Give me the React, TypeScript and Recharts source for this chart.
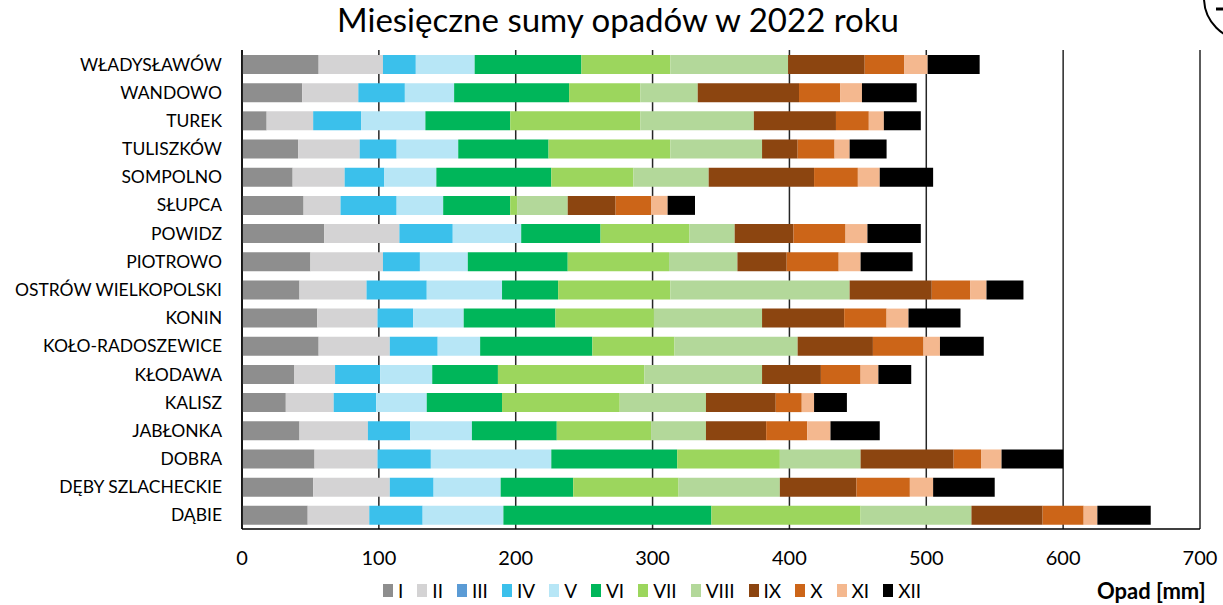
import React from 'react';
import { BarChart, Bar, XAxis, YAxis, CartesianGrid } from 'recharts';

// Stacje pomiarowe (od góry wykresu)
const stations = [
  'WŁADYSŁAWÓW', 'WANDOWO', 'TUREK', 'TULISZKÓW', 'SOMPOLNO', 'SŁUPCA', 'POWIDZ',
  'PIOTROWO', 'OSTRÓW WIELKOPOLSKI', 'KONIN', 'KOŁO-RADOSZEWICE', 'KŁODAWA',
  'KALISZ', 'JABŁONKA', 'DOBRA', 'DĘBY SZLACHECKIE', 'DĄBIE',
];

// Miesięczne sumy opadów [mm], kolejność jak w stations
const styczen = [56, 44, 18, 41, 37, 45, 60, 50, 42, 55, 56, 38, 32, 42, 53, 52, 48];
const luty = [47, 41, 34, 45, 38, 27, 55, 53, 49, 44, 52, 30, 35, 50, 46, 56, 45];
const marzec = [0, 0, 0, 0, 0, 0, 0, 0, 0, 0, 0, 0, 0, 0, 0, 0, 0];
const kwiecien = [24, 34, 35, 27, 29, 41, 39, 27, 44, 26, 35, 33, 31, 31, 39, 32, 39];
const maj = [43, 36, 47, 45, 38, 34, 50, 35, 55, 37, 31, 38, 37, 45, 88, 49, 59];
const czerwiec = [78, 84, 62, 66, 84, 49, 58, 73, 41, 67, 82, 48, 55, 62, 92, 53, 152];
const lipiec = [65, 52, 95, 89, 60, 5, 65, 74, 82, 72, 60, 107, 86, 69, 75, 77, 109];
const sierpien = [86, 42, 83, 67, 55, 37, 33, 50, 131, 79, 90, 86, 63, 40, 59, 74, 81];
const wrzesien = [56, 74, 60, 26, 77, 35, 43, 36, 60, 60, 55, 43, 51, 44, 68, 56, 52];
const pazdziernik = [29, 30, 24, 27, 32, 26, 38, 38, 28, 31, 37, 29, 19, 30, 20, 39, 30];
const listopad = [17, 16, 11, 11, 16, 12, 16, 16, 12, 16, 12, 13, 9, 17, 15, 17, 10];
const grudzien = [38, 40, 27, 27, 39, 20, 39, 38, 27, 38, 32, 24, 24, 36, 45, 45, 39];

const monthLabels = ['I', 'II', 'III', 'IV', 'V', 'VI', 'VII', 'VIII', 'IX', 'X', 'XI', 'XII'];
const monthValues = [styczen, luty, marzec, kwiecien, maj, czerwiec, lipiec, sierpien, wrzesien, pazdziernik, listopad, grudzien];
const monthColors = [
  '#8e8e8e', '#d4d3d4', '#5b9bd5', '#3bc0eb', '#b7e6f6', '#00b65a',
  '#9cd65d', '#b3d89a', '#8c4510', '#cc6518', '#f4b88f', '#000000',
];

const xTicks = [0, 100, 200, 300, 400, 500, 600, 700];

const data = stations.map((name, i) => {
  const row: any = { name };
  monthLabels.forEach((m, j) => { row[m] = monthValues[j][i]; });
  return row;
});

const FONT = 'Lato, "Open Sans", sans-serif';

const StationTick = ({ y, payload }: any) => (
  <text x={222} y={y} textAnchor="end" dominantBaseline="central" fontSize={17.5} fill="#000" fontFamily={FONT}>
    {payload.value}
  </text>
);

const ValueTick = ({ x, y, payload }: any) => (
  <text x={x} y={y + 20} textAnchor="middle" dominantBaseline="central" fontSize={20} fill="#000" fontFamily={FONT}>
    {payload.value}
  </text>
);

// legenda miesięcy pod osią
const MonthLegend = () => (
  <div style={{ position: 'absolute', left: 383, top: 579, display: 'flex', alignItems: 'center', fontFamily: FONT, fontSize: 19, color: '#000' }}>
    {monthLabels.map((m, i) => (
      <div key={m} style={{ display: 'flex', alignItems: 'center', marginRight: 14 }}>
        <span style={{ display: 'inline-block', width: 10, height: 13, background: monthColors[i], marginRight: 5 }} />
        <span>{m}</span>
      </div>
    ))}
  </div>
);

export default function App() {
  return (
    <div style={{ position: 'absolute', left: 0, top: 0, width: 1223, height: 605, background: '#fff', overflow: 'hidden' }}>
      <div style={{ position: 'absolute', left: 0, top: -1, width: 1236, textAlign: 'center', fontFamily: FONT, fontSize: 33, color: '#000' }}>
        Miesięczne sumy opadów w 2022 roku
      </div>
      <svg width={1223} height={60} style={{ position: 'absolute', left: 0, top: 0 }}>
        <circle cx={1246} cy={-2} r={42} fill="none" stroke="#000" strokeWidth={2} />
        <line x1={1216} y1={9} x2={1223} y2={9} stroke="#000" strokeWidth={3} />
      </svg>
      <BarChart
        width={1223}
        height={605}
        layout="vertical"
        data={data}
        barSize={19}
        margin={{ top: 50, right: 23, bottom: 46, left: 0 }}
        style={{ position: 'absolute', left: 0, top: 0 }}
      >
        <CartesianGrid horizontal={false} stroke="#262626" strokeWidth={1.5} />
        <XAxis
          type="number"
          domain={[0, 700]}
          ticks={xTicks}
          height={30}
          tick={<ValueTick />}
          tickLine={false}
          axisLine={{ stroke: '#000', strokeWidth: 1.5 }}
        />
        <YAxis
          type="category"
          dataKey="name"
          width={242}
          tick={<StationTick />}
          tickLine={false}
          axisLine={{ stroke: '#000', strokeWidth: 1.5 }}
          interval={0}
        />
        {monthLabels.map((m, i) => (
          <Bar key={m} dataKey={m} stackId="opad" fill={monthColors[i]} isAnimationActive={false} />
        ))}
      </BarChart>
      <MonthLegend />
      <div style={{ position: 'absolute', left: 1097, top: 577, fontFamily: FONT, fontSize: 22, fontWeight: 700, color: '#000' }}>
        Opad [mm]
      </div>
    </div>
  );
}
